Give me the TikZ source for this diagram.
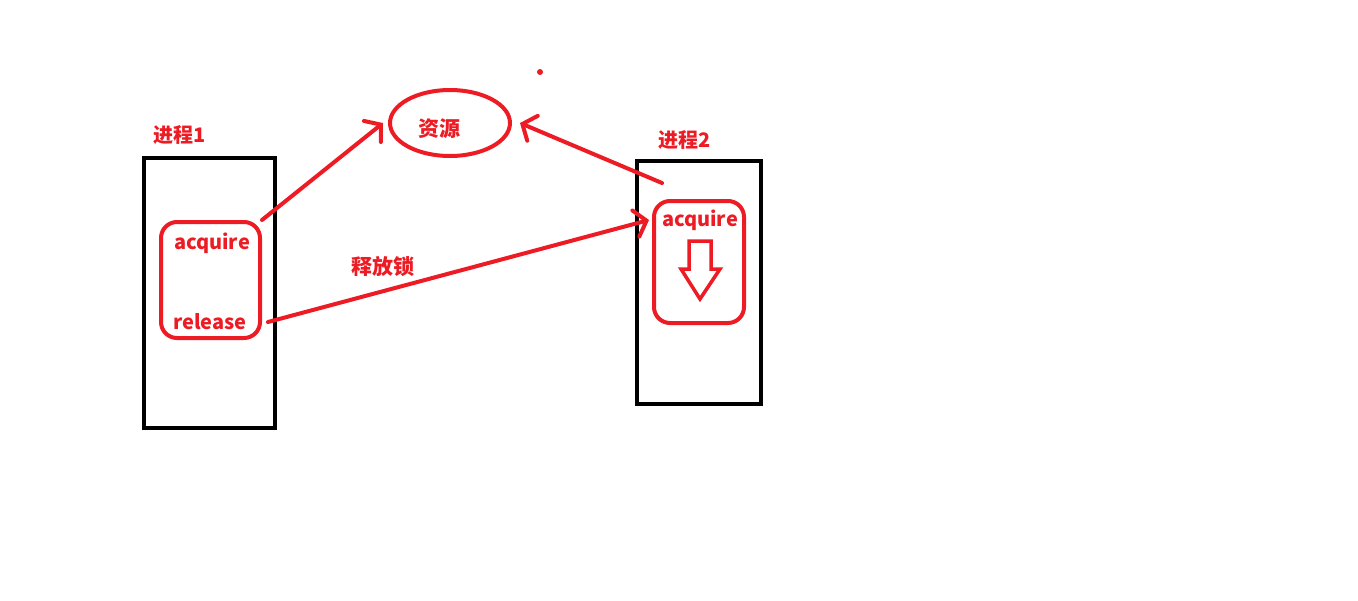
\documentclass[tikz,border=0pt]{standalone}
\usepackage{fontspec}
\setmainfont{Noto Sans CJK SC}
\usetikzlibrary{arrows.meta,shapes.geometric}
\definecolor{punainen}{HTML}{ED1C24}
\definecolor{musta}{HTML}{000000}
\tikzset{
  prosessi/.style={draw=musta,line width=4.5pt,minimum width=131pt,minimum height=270pt},
  lukko/.style={draw=punainen,line width=4pt,rounded corners=16pt},
  teksti/.style={text=punainen,font=\bfseries\fontsize{20}{23}\selectfont,inner sep=0pt},
  nuoli/.style={draw=punainen,line width=4pt,line cap=round,-{Straight Barb[length=11pt,width=27pt,line cap=round]}}
}

\begin{document}
\begin{tikzpicture}[x=1pt,y=-1pt]
				\useasboundingbox (0,0) rectangle (1358,600);
				\node[prosessi] (proc1) at (209.5,293) {};
				\node[prosessi,minimum width=124pt,minimum height=243pt] (proc2) at (699,282.5) {};
				\node[lukko,minimum width=99pt,minimum height=116pt] (lock1) at (210.5,280) {};
				\node[lukko,minimum width=90pt,minimum height=122pt] (lock2) at (699,262) {};
				\node[ellipse,draw=punainen,line width=4pt,minimum width=120pt,minimum height=66pt] (res) at (450,123) {};
				\node[teksti] (acq1) at (212,243) {acquire};
				\node[teksti] (rel1) at (210,322) {release};
				\node[teksti] (acq2) at (700,220) {acquire};
				\node[teksti,font=\bfseries\fontsize{21}{24}\selectfont] (resname) at (439,129) {资源};
				\node[teksti] (name1) at (180,135) {进程1};
				\node[teksti] (name2) at (685,140) {进程2};
				\node[teksti,font=\bfseries\fontsize{21}{24}\selectfont] (unlock) at (383,267) {释放锁};
				\coordinate (from2) at (662,183);
				\fill[punainen] (540,72) circle(3);
				\draw[punainen,line width=3.5pt,line join=miter] (689,241) -- (711,241) -- (711,269) -- (720,269) -- (700,299) -- (681,269) -- (689,269) -- cycle;
				\draw[nuoli] (lock1.north east) -- ([xshift=-5pt]res.west);
				\draw[nuoli] (from2) -- ([xshift=8pt]res.east);
				\draw[nuoli] ([xshift=6pt]lock1.east |- rel1) -- ([xshift=-3pt]lock2.west |- acq2);
			\end{tikzpicture}
\end{document}
